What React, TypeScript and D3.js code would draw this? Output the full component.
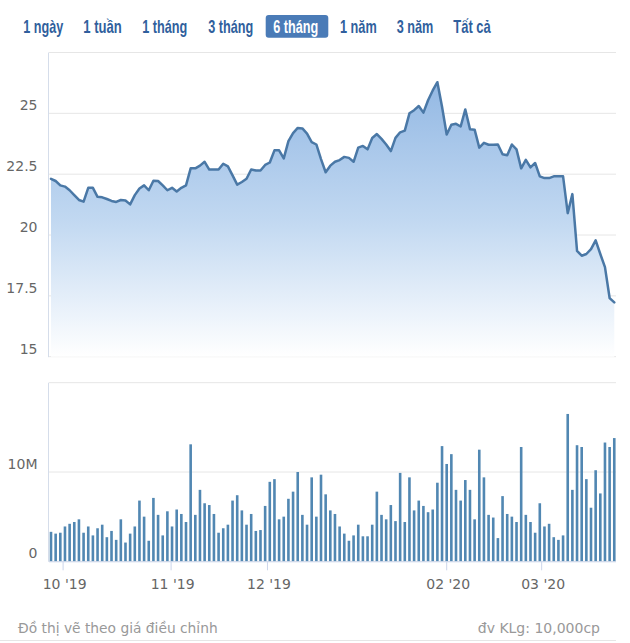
import React from "react";
import * as d3 from "d3";

// ---- Data ----
const rangeButtons = ["1 ngày", "1 tuần", "1 tháng", "3 tháng", "6 tháng", "1 năm", "3 năm", "Tất cả"];
const activeButton = "6 tháng";

// closing price (thousand VND), trading days 26 Sep 2019 .. 23 Mar 2020
const price = [
  22.31, 22.22, 22.04, 21.99, 21.84, 21.64, 21.44, 21.37, 21.94, 21.94,
  21.57, 21.55, 21.48, 21.40, 21.36, 21.44, 21.42, 21.26, 21.64, 21.91,
  22.04, 21.84, 22.23, 22.22, 22.04, 21.84, 21.94, 21.79, 21.94, 22.04,
  22.74, 22.74, 22.85, 23.01, 22.69, 22.69, 22.69, 22.93, 22.82, 22.45,
  22.07, 22.18, 22.31, 22.69, 22.65, 22.65, 22.88, 22.98, 23.48, 23.48,
  23.15, 23.86, 24.19, 24.40, 24.38, 24.17, 23.82, 23.72, 23.12, 22.58,
  22.85, 23.01, 23.08, 23.21, 23.17, 23.01, 23.59, 23.66, 23.52, 23.99,
  24.15, 23.95, 23.72, 23.45, 23.99, 24.22, 24.29, 25.0, 25.13, 25.30,
  25.03, 25.54, 25.94, 26.28, 25.27, 24.13, 24.53, 24.57, 24.46, 25.16,
  24.35, 24.33, 23.59, 23.79, 23.71, 23.71, 23.72, 23.32, 23.28, 23.72,
  23.52, 22.74, 23.09, 22.78, 22.96, 22.41, 22.34, 22.34, 22.41, 22.41,
  22.41, 20.90, 21.68, 19.35, 19.15, 19.22, 19.42, 19.78, 19.22, 18.68,
  17.41, 17.23,
];

// volume in millions of shares
const volume = [
  3.3, 3.1, 3.2, 3.9, 4.2, 4.4, 4.7, 3.2, 3.9, 2.9,
  3.7, 4.1, 2.7, 3.4, 2.4, 4.7, 2.1, 3.1, 3.9, 6.8,
  5.0, 2.3, 7.1, 5.2, 2.9, 5.6, 3.9, 5.8, 5.3, 4.4,
  13.1, 5.2, 8.0, 6.5, 6.3, 5.3, 3.2, 3.7, 4.1, 6.8,
  7.4, 5.7, 4.1, 5.3, 3.4, 3.5, 6.2, 8.9, 9.2, 4.7,
  5.0, 7.0, 7.8, 10.0, 5.2, 4.1, 9.4, 5.0, 9.7, 7.5,
  5.7, 5.3, 3.9, 3.1, 2.3, 2.9, 4.1, 2.8, 2.8, 4.1,
  7.8, 5.2, 4.7, 6.3, 4.5, 9.9, 4.4, 9.4, 5.7, 6.8,
  6.2, 5.5, 5.8, 8.8, 12.9, 10.9, 12.0, 8.0, 6.8, 9.1,
  8.0, 4.7, 12.5, 9.4, 5.2, 4.9, 2.6, 7.3, 5.3, 5.0,
  4.4, 12.8, 5.2, 4.4, 3.2, 6.5, 3.9, 4.2, 2.7, 2.4,
  2.9, 16.5, 8.0, 13.0, 12.8, 9.2, 6.0, 10.2, 7.6, 13.3,
  12.8, 13.8,
];

const monthLabels = ["10 '19", "11 '19", "12 '19", "02 '20", "03 '20"];
const monthTickIndex = [2.6, 25.8, 46.5, 85.0, 105.4];

const priceTicks = [15, 17.5, 20, 22.5, 25, 27.5];
const priceLabelTicks = [15, 17.5, 20, 22.5, 25];
const volumeTicks = [0, 10, 20];
const volumeLabelTicks = [0, 10];

const footerLeft = "Đồ thị vẽ theo giá điều chỉnh";
const footerRight = "đv KLg: 10,000cp";

// ---- Layout ----
const W = 630;
const H = 643;
const plotLeft = 49;
const plotRight = 616;
const priceTop = 52.5;
const priceBottom = 356.7;
const volTop = 382.7;
const volBottom = 561.3;

const buttonBoxes: [number, number][] = [
  [23.3, 63.3], [83.3, 121.7], [142.3, 187.3], [208.3, 253.3],
  [273.3, 318.3], [340, 376.7], [396.7, 433.3], [453.3, 490.7],
];

const FONT = "'DejaVu Sans', Verdana, sans-serif";
const BTN_FONT = "'Liberation Sans Narrow', 'Arial Narrow', 'Liberation Sans', Arial, sans-serif";

export default function App() {
  const x = d3.scaleLinear().domain([-0.43, price.length - 1 + 0.37]).range([plotLeft, plotRight]);
  const yP = d3.scaleLinear().domain([15, 27.5]).range([priceBottom, priceTop]);
  const yV = d3.scaleLinear().domain([0, 20]).range([volBottom, volTop]);

  const line = d3
    .line<number>()
    .x((_, i) => x(i))
    .y((d) => yP(d));
  const area = d3
    .area<number>()
    .x((_, i) => x(i))
    .y0(priceBottom)
    .y1((d) => yP(d));

  const barW = 2.6;

  return (
    <svg
      width={W}
      height={H}
      style={{ position: "fixed", left: 0, top: 0, background: "#fff" }}
      fontFamily={FONT}
    >
      <defs>
        <linearGradient id="areaGrad" x1="0" y1={priceTop} x2="0" y2={priceBottom} gradientUnits="userSpaceOnUse">
          <stop offset="0" stopColor="#8ab2e1" />
          <stop offset="0.55" stopColor="#c1d8f1" />
          <stop offset="1" stopColor="#ffffff" />
        </linearGradient>
      </defs>

      {/* range selector buttons */}
      <rect x={265.7} y={15} width={62.6} height={22.7} rx={3} fill="#4a7bb7" />
      {rangeButtons.map((b, i) => (
        <text
          key={b}
          x={buttonBoxes[i][0]}
          y={33.3}
          textLength={buttonBoxes[i][1] - buttonBoxes[i][0]}
          lengthAdjust="spacingAndGlyphs"
          fontFamily={BTN_FONT}
          fontWeight="bold"
          fontSize={18.5}
          fill={b === activeButton ? "#ffffff" : "#305f9d"}
        >
          {b}
        </text>
      ))}

      {/* price grid */}
      {priceTicks.map((t) => (
        <line key={"pg" + t} x1={plotLeft} x2={plotRight} y1={yP(t)} y2={yP(t)} stroke="#e6e6e6" strokeWidth={1} />
      ))}
      {priceLabelTicks.map((t) => (
        <text key={"pl" + t} x={37.5} y={yP(t) - 3} textAnchor="end" fontSize={14} fill="#666">
          {t}
        </text>
      ))}

      {/* price area + line */}
      <path d={area(price) || ""} fill="url(#areaGrad)" />
      <path d={line(price) || ""} fill="none" stroke="#4a78a6" strokeWidth={2.5} strokeLinejoin="round" strokeLinecap="round" />
      <line x1={plotLeft - 0.5} x2={plotLeft - 0.5} y1={priceTop} y2={priceBottom + 0.5} stroke="#d5ddea" strokeWidth={1} />

      {/* volume grid */}
      {volumeTicks.map((t) => (
        <line key={"vg" + t} x1={plotLeft} x2={plotRight} y1={yV(t)} y2={yV(t)} stroke="#e6e6e6" strokeWidth={1} />
      ))}
      {volumeLabelTicks.map((t) => (
        <text key={"vl" + t} x={37.5} y={yV(t) - 3} textAnchor="end" fontSize={14} fill="#666">
          {t === 0 ? "0" : t + "M"}
        </text>
      ))}

      {/* volume bars */}
      {volume.map((v, i) => (
        <rect key={"b" + i} x={x(i) - barW / 2} y={yV(v)} width={barW} height={volBottom - yV(v)} fill="#5187b2" />
      ))}

      {/* volume axes */}
      <line x1={plotLeft - 0.5} x2={plotLeft - 0.5} y1={volTop} y2={volBottom + 0.5} stroke="#d5ddea" strokeWidth={1} />
      <line x1={plotLeft} x2={plotRight} y1={volBottom + 0.5} y2={volBottom + 0.5} stroke="#ccd6eb" strokeWidth={1} />
      {monthTickIndex.map((t, i) => (
        <g key={"mt" + i}>
          <line x1={x(t)} x2={x(t)} y1={volBottom} y2={volBottom + 9} stroke="#ccd6eb" strokeWidth={1} />
          <text x={x(t) + 1.5} y={589} textAnchor="middle" fontSize={14} fill="#666">
            {monthLabels[i]}
          </text>
        </g>
      ))}

      {/* footer */}
      <text x={18} y={633} fontSize={13.8} fill="#999">
        {footerLeft}
      </text>
      <text x={600} y={633} textAnchor="end" fontSize={14} fill="#999">
        {footerRight}
      </text>
      <line x1={0} x2={plotRight} y1={640.5} y2={640.5} stroke="#e6e6e6" strokeWidth={1} />
    </svg>
  );
}
